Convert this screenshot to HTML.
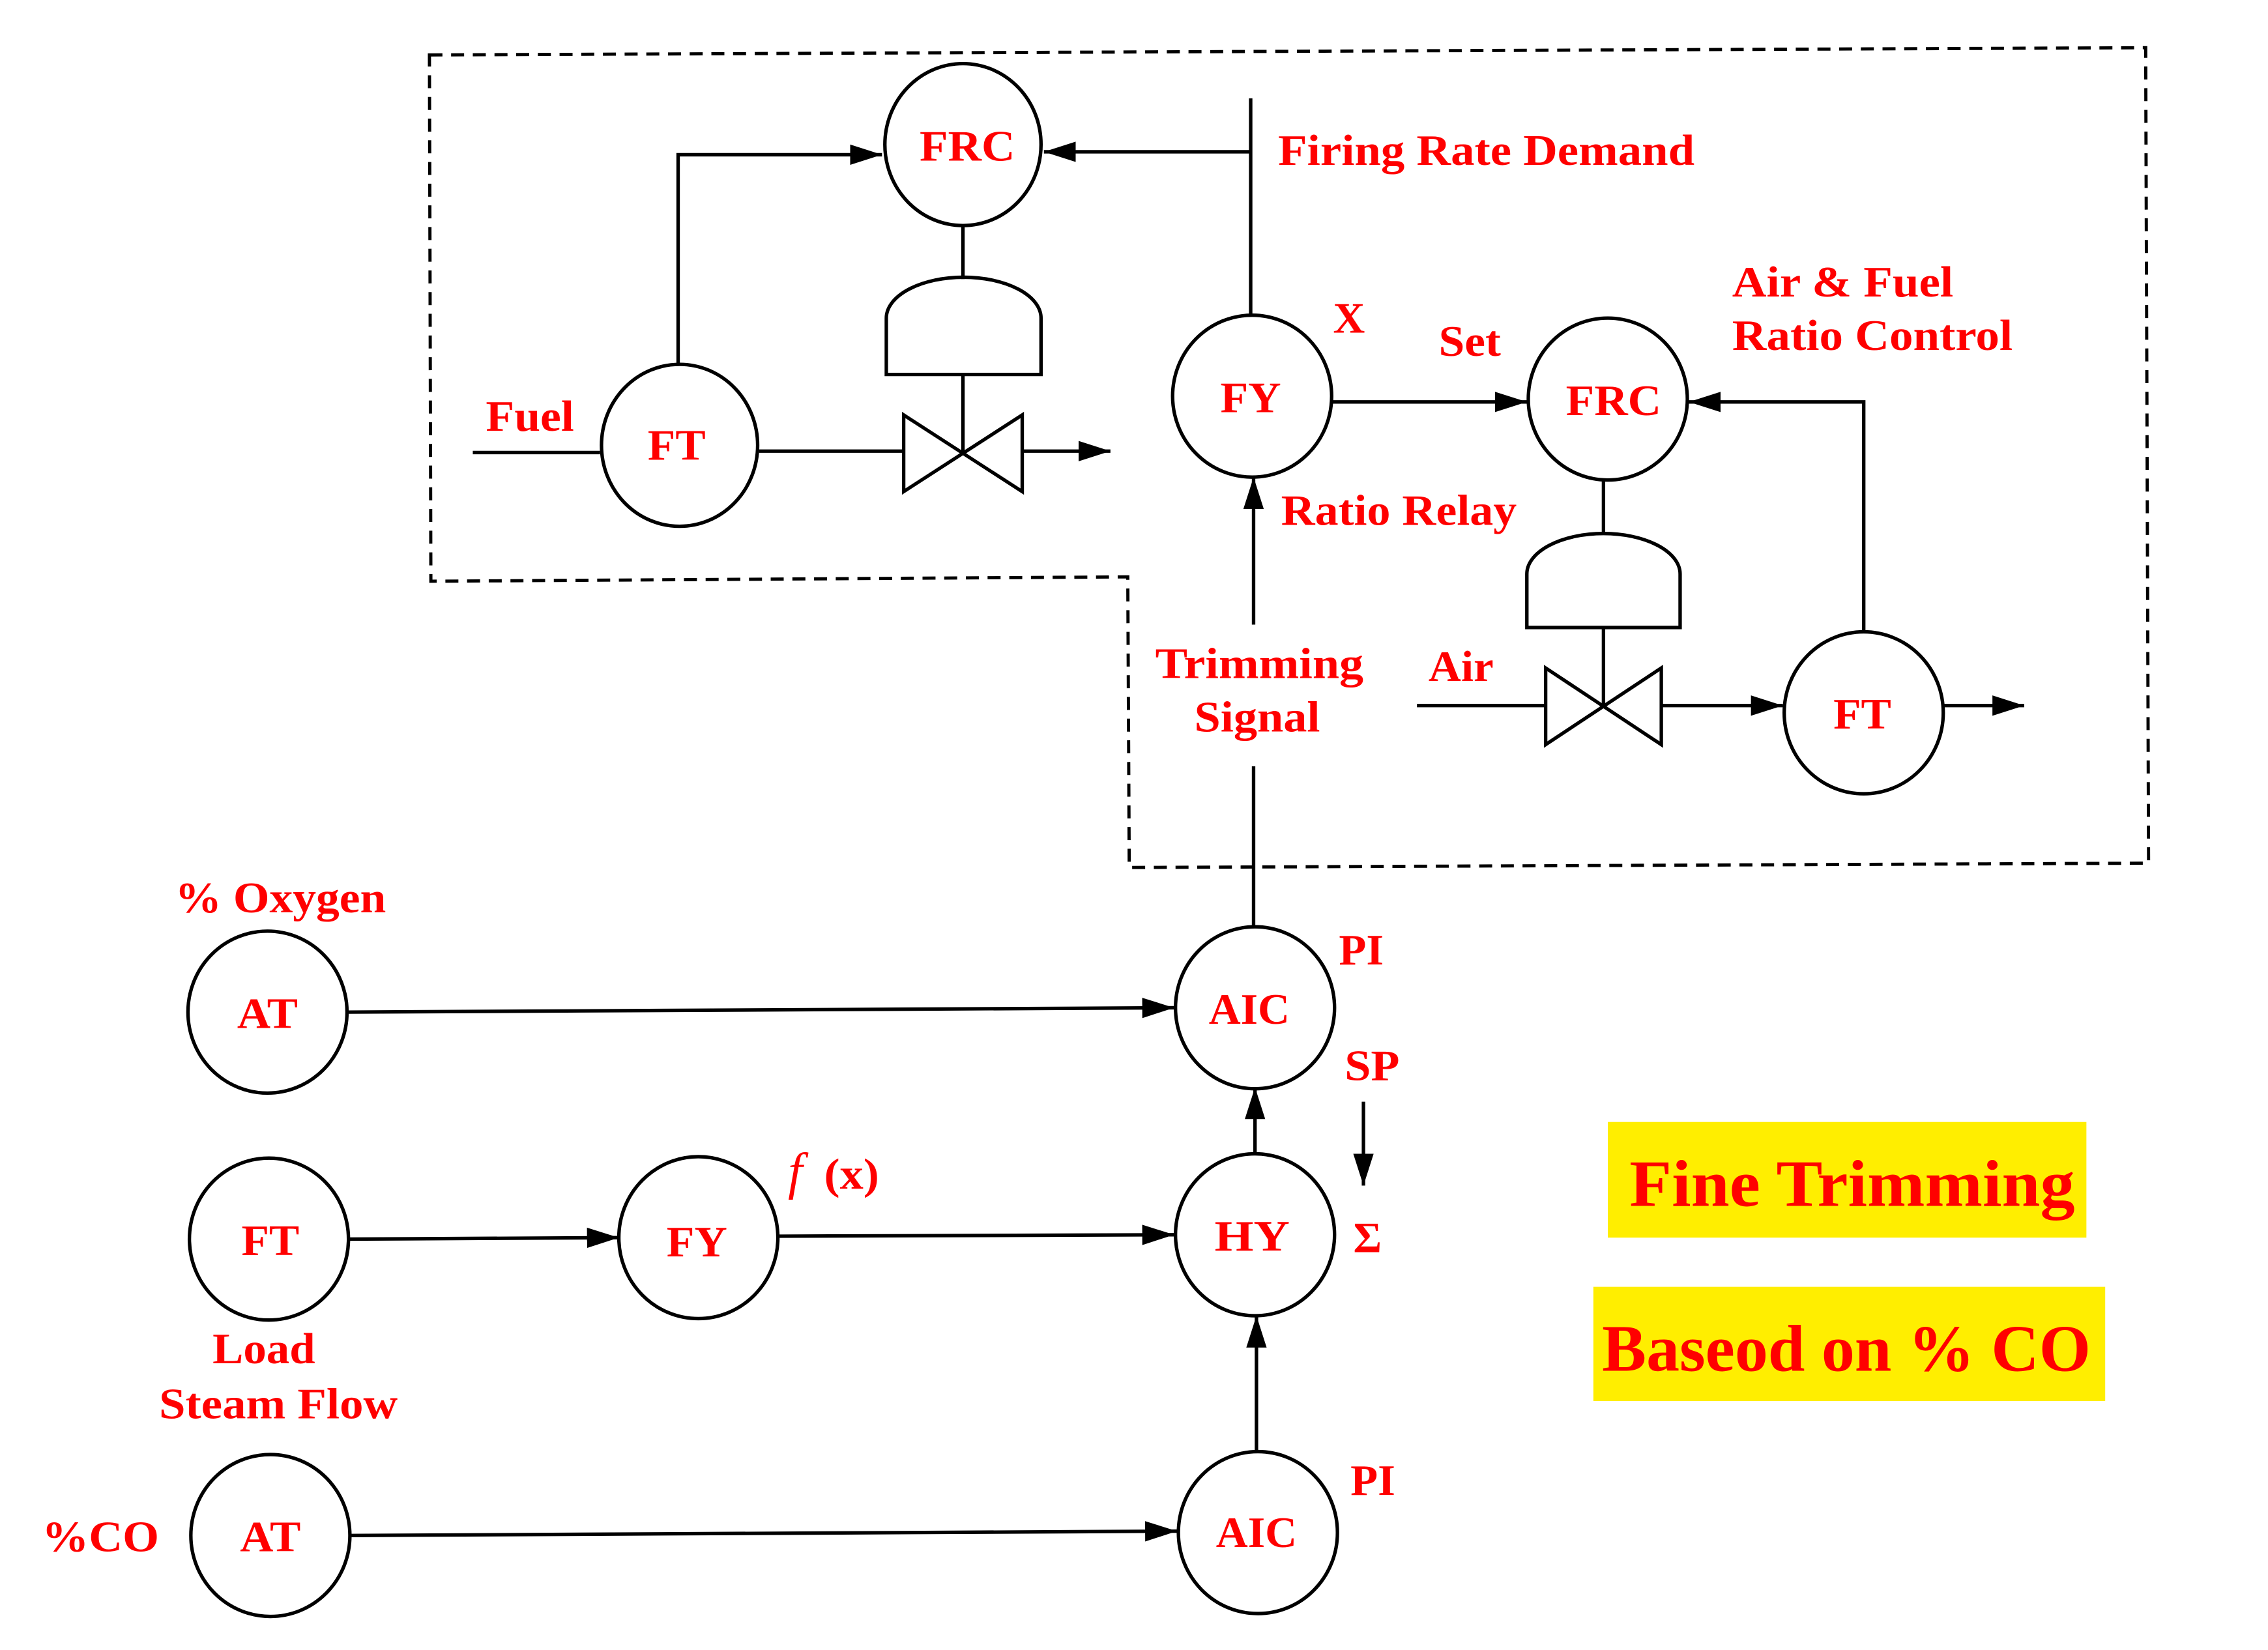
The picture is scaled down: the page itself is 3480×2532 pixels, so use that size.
<!DOCTYPE html>
<html><head><meta charset="utf-8"><style>html,body{margin:0;padding:0;background:#fff}svg{display:block}</style></head><body>
<svg width="3480" height="2532" viewBox="0 0 1568.6 1141.2" preserveAspectRatio="none" xmlns="http://www.w3.org/2000/svg">
<defs>
<marker id="b" viewBox="0 0 10 10" refX="10" refY="5" markerWidth="22" markerHeight="22" markerUnits="userSpaceOnUse" orient="auto"><path d="M0,1.8L10,5L0,8.2z" fill="#000"/></marker></defs>
<rect width="1570" height="1142" fill="#fff"/>
<polygon points="297,38 1484,33 1486,597 781,600 780,399 298,402" fill="none" stroke="#000" stroke-width="2.2" stroke-dasharray="9,6"/>
<g fill="none" stroke="#000" stroke-width="2.4">
<ellipse cx="666" cy="100" rx="54" ry="56"/>
<ellipse cx="470" cy="308" rx="54" ry="56"/>
<ellipse cx="866" cy="274" rx="55" ry="56"/>
<ellipse cx="1112" cy="276" rx="55" ry="56"/>
<ellipse cx="1289" cy="493" rx="55" ry="56"/>
<ellipse cx="868" cy="697" rx="55" ry="56"/>
<ellipse cx="868" cy="854" rx="55" ry="56"/>
<ellipse cx="870" cy="1060" rx="55" ry="56"/>
<ellipse cx="185" cy="700" rx="55" ry="56"/>
<ellipse cx="186" cy="857" rx="55" ry="56"/>
<ellipse cx="483" cy="856" rx="55" ry="56"/>
<ellipse cx="187" cy="1062" rx="55" ry="56"/>
<path d="M625,287L707,340L707,287L625,340Z"/>
<path d="M613,259V220A53,28 0 0 1 720,220V259Z"/>
<path d="M666,156V193M666,259V313"/>
<path d="M327,313H415M525,312H625"/>
<path d="M707,312H768" marker-end="url(#b)"/>
<path d="M469,253V107H610" marker-end="url(#b)"/>
<path d="M865,68V219"/>
<path d="M865,105H722" marker-end="url(#b)"/>
<path d="M921,278H1056" marker-end="url(#b)"/>
<path d="M1069,462L1149,515L1149,462L1069,515Z"/>
<path d="M1056,434V397A53,28 0 0 1 1162,397V434Z"/>
<path d="M1109,332V370M1109,434V488"/>
<path d="M980,488H1069"/>
<path d="M1149,488H1233" marker-end="url(#b)"/>
<path d="M1344,488H1400" marker-end="url(#b)"/>
<path d="M1289,437V278H1168" marker-end="url(#b)"/>
<path d="M867,641V530"/>
<path d="M867,432V330" marker-end="url(#b)"/>
<path d="M241,700L812,697" marker-end="url(#b)"/>
<path d="M868,798V752" marker-end="url(#b)"/>
<path d="M943,762V820" marker-end="url(#b)"/>
<path d="M242,857L428,856" marker-end="url(#b)"/>
<path d="M538,855L812,854" marker-end="url(#b)"/>
<path d="M869,1004V910" marker-end="url(#b)"/>
<path d="M243,1062L814,1059" marker-end="url(#b)"/>
</g>
<rect x="1112" y="776" width="331" height="80" fill="#ffee00"/>
<rect x="1102" y="890" width="354" height="79" fill="#ffee00"/>
<g fill="#ff0000" font-family="Liberation Serif, serif" font-weight="bold" font-size="30" text-anchor="middle">
<text x="669" y="111" textLength="66" lengthAdjust="spacingAndGlyphs">FRC</text>
<text x="468" y="318" textLength="40" lengthAdjust="spacingAndGlyphs">FT</text>
<text x="865" y="285" textLength="42" lengthAdjust="spacingAndGlyphs">FY</text>
<text x="1116" y="287" textLength="66" lengthAdjust="spacingAndGlyphs">FRC</text>
<text x="1288" y="504" textLength="40" lengthAdjust="spacingAndGlyphs">FT</text>
<text x="864" y="708" textLength="56" lengthAdjust="spacingAndGlyphs">AIC</text>
<text x="866" y="865" textLength="52" lengthAdjust="spacingAndGlyphs">HY</text>
<text x="869" y="1070" textLength="56" lengthAdjust="spacingAndGlyphs">AIC</text>
<text x="185" y="711" textLength="42" lengthAdjust="spacingAndGlyphs">AT</text>
<text x="187" y="868" textLength="40" lengthAdjust="spacingAndGlyphs">FT</text>
<text x="482" y="869" textLength="42" lengthAdjust="spacingAndGlyphs">FY</text>
<text x="187" y="1073" textLength="42" lengthAdjust="spacingAndGlyphs">AT</text>
<g text-anchor="start">
<text x="884" y="114" textLength="288" lengthAdjust="spacingAndGlyphs">Firing Rate Demand</text>
<text x="336" y="298" textLength="61" lengthAdjust="spacingAndGlyphs">Fuel</text>
<text x="922" y="230" textLength="22" lengthAdjust="spacingAndGlyphs">X</text>
<text x="995" y="246" textLength="43" lengthAdjust="spacingAndGlyphs">Set</text>
<text x="1198" y="205" textLength="153" lengthAdjust="spacingAndGlyphs">Air &amp; Fuel</text>
<text x="1198" y="242" textLength="194" lengthAdjust="spacingAndGlyphs">Ratio Control</text>
<text x="886" y="363" textLength="163" lengthAdjust="spacingAndGlyphs">Ratio Relay</text>
<text x="799" y="469" textLength="144" lengthAdjust="spacingAndGlyphs">Trimming</text>
<text x="826" y="506" textLength="87" lengthAdjust="spacingAndGlyphs">Signal</text>
<text x="988" y="471" textLength="45" lengthAdjust="spacingAndGlyphs">Air</text>
<text x="121" y="631" textLength="146" lengthAdjust="spacingAndGlyphs">% Oxygen</text>
<text x="926" y="667" textLength="31" lengthAdjust="spacingAndGlyphs">PI</text>
<text x="930" y="747" textLength="38" lengthAdjust="spacingAndGlyphs">SP</text>
<text x="936" y="866">Σ</text>
<text x="545" y="822" font-style="italic" font-weight="normal" font-size="36">f</text>
<text x="570" y="822" textLength="38" lengthAdjust="spacingAndGlyphs">(x)</text>
<text x="147" y="943" textLength="71" lengthAdjust="spacingAndGlyphs">Load</text>
<text x="110" y="981" textLength="165" lengthAdjust="spacingAndGlyphs">Steam Flow</text>
<text x="29" y="1073" textLength="81" lengthAdjust="spacingAndGlyphs">%CO</text>
<text x="934" y="1034" textLength="31" lengthAdjust="spacingAndGlyphs">PI</text>
<text x="1127" y="834" font-size="46" textLength="308" lengthAdjust="spacingAndGlyphs">Fine Trimming</text>
<text x="1108" y="948" font-size="46" textLength="338" lengthAdjust="spacingAndGlyphs">Baseod on % CO</text>
</g>
</g>
</svg>
</body></html>
